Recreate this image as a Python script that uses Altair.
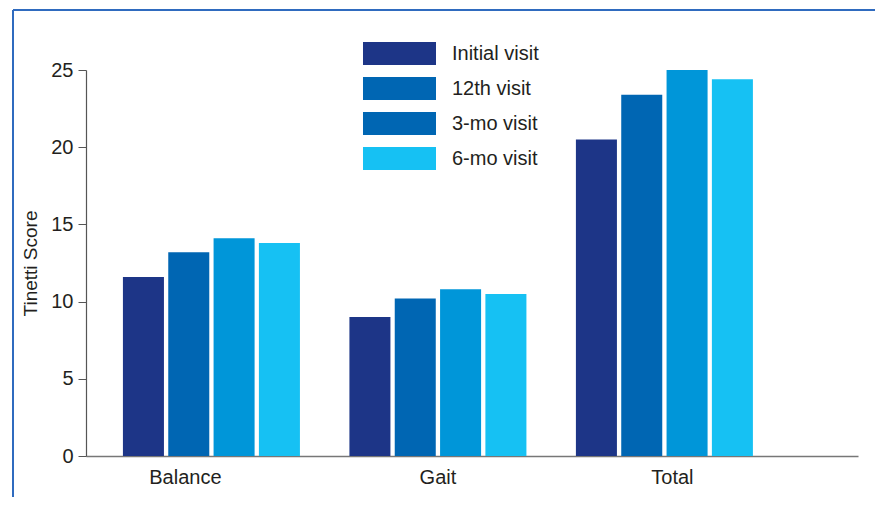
import altair as alt
import pandas as pd

categories = ["Balance", "Gait", "Total"]
visits = ["Initial visit", "12th visit", "3-mo visit", "6-mo visit"]
initial = [11.6, 9.0, 20.5]
twelfth = [13.2, 10.2, 23.4]
three_mo = [14.1, 10.8, 25.0]
six_mo = [13.8, 10.5, 24.4]
bar_colors = ["#1d3587", "#0066b3", "#0096d9", "#16c1f3"]
legend_colors = ["#1d3587", "#0066b3", "#0066b3", "#16c1f3"]

series = [initial, twelfth, three_mo, six_mo]
rows = []
for vi, (v, vals) in enumerate(zip(visits, series)):
    for c, val in zip(categories, vals):
        rows.append({"category": c, "visit": v, "order": vi, "score": val,
                     "fillc": bar_colors[vi]})
df = pd.DataFrame(rows)

FONT = "Liberation Sans"
TXT = "#231f20"

x_scale = alt.Scale(domain=categories, paddingInner=0.2185, paddingOuter=0.3135, align=0.26)

bars = alt.Chart(df).mark_bar().encode(
    x=alt.X("category:N", scale=x_scale, sort=categories,
            axis=alt.Axis(title=None, labelAngle=0, ticks=False, domainColor="#777777",
                          domainWidth=1.5, labelFontSize=20, labelColor=TXT,
                          labelPadding=11, labelFont=FONT,
                          labelOffset={"condition": [
                              {"test": "datum.value === 'Balance'", "value": -26},
                              {"test": "datum.value === 'Total'", "value": 8}],
                              "value": 0})),
    xOffset=alt.XOffset("visit:N", sort=visits,
                        scale=alt.Scale(paddingInner=0.095, paddingOuter=0)),
    y=alt.Y("score:Q", scale=alt.Scale(domain=[0, 25], nice=False),
            axis=alt.Axis(title="Tinetti Score", values=[0, 5, 10, 15, 20, 25], grid=False,
                          domainColor="#555555", domainWidth=1.2, tickColor="#555555",
                          tickSize=8, labelFontSize=20, labelColor=TXT,
                          labelPadding=5, labelFont=FONT, titleFont=FONT,
                          titleFontSize=19, titleFontWeight="normal", titleColor=TXT,
                          titlePadding=10)),
    fill=alt.Fill("fillc:N", scale=None),
)

legend_df = pd.DataFrame({"visit": visits, "score": [0, 0, 0, 0], "category": ["Balance"] * 4})
legend_layer = alt.Chart(legend_df).mark_bar().encode(
    x=alt.X("category:N", scale=x_scale, sort=categories),
    y=alt.Y("score:Q"),
    color=alt.Color("visit:N", sort=visits,
                    scale=alt.Scale(domain=visits, range=legend_colors),
                    legend=alt.Legend(title=None, orient="none", legendX=302, legendY=-28,
                                      symbolType="M-3.174,-1H3.174V1H-3.174Z", symbolSize=529,
                                      symbolStrokeWidth=0, symbolOpacity=1,
                                      labelFontSize=20, labelFont=FONT, labelColor=TXT,
                                      labelOffset=41, rowPadding=12, symbolLimit=0)),
)

frame_color = "#2f6bbf"
frame_left = alt.Chart(legend_df).mark_rule(color=frame_color, strokeWidth=2).encode(
    x=alt.value(-73), y=alt.value(-60), y2=alt.value(440))
frame_top = alt.Chart(legend_df).mark_rule(color=frame_color, strokeWidth=2).encode(
    x=alt.value(-73), x2=alt.value(794), y=alt.value(-60))
frame_right = alt.Chart(legend_df).mark_rule(color=frame_color, strokeWidth=2).encode(
    x=alt.value(794), y=alt.value(-60), y2=alt.value(440))

chart = alt.layer(bars, legend_layer, frame_left, frame_top, frame_right).properties(
    width=772, height=386,
    autosize=alt.AutoSizeParams(type="none"),
    padding={"left": 78, "top": 62, "right": 17, "bottom": 41},
).configure(font=FONT, view=alt.ViewConfig(stroke=None))

chart.save("out.html", embed_options={"renderer": "svg", "actions": False})
